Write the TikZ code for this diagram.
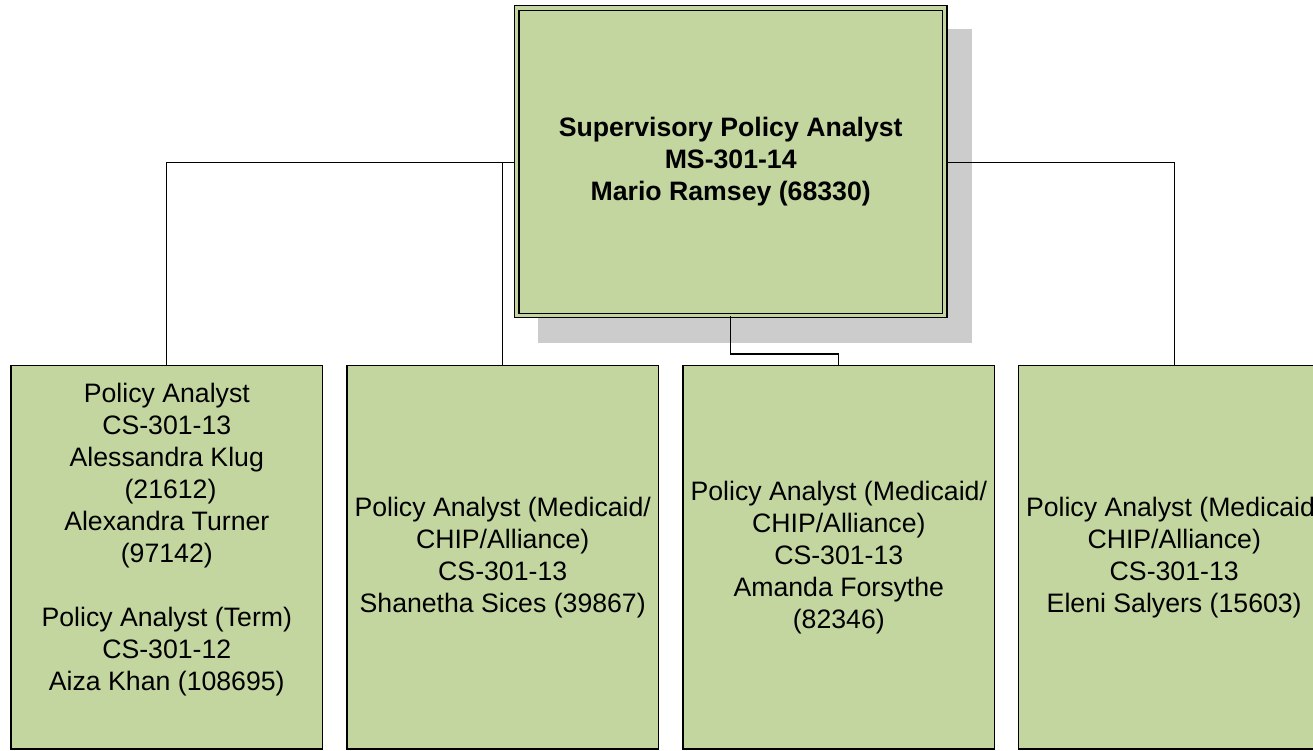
\documentclass[tikz,border=0pt]{standalone}
\usepackage{fontspec}
\setmainfont{Liberation Sans}
\definecolor{boxgreen}{RGB}{196,214,160}
\definecolor{shadowgray}{RGB}{204,204,204}
\begin{document}
\begin{tikzpicture}[x=0.75pt,y=-0.75pt,
  orgbox/.style={draw=black, line width=1pt, fill=boxgreen, minimum width=233.8pt, minimum height=287.3pt, inner sep=0pt, align=center, font=\fontsize{20pt}{24pt}\selectfont},
  topbox/.style={draw=black, line width=1pt, double=boxgreen, double distance=2.4pt, fill=boxgreen, minimum width=320.8pt, minimum height=230.6pt, inner sep=0pt, align=center, font=\fontsize{20pt}{24pt}\selectfont\bfseries},
  link/.style={draw=black, line width=1pt}]
\useasboundingbox (0,0) rectangle (1313,750);
\fill[shadowgray] (537.7,29) rectangle (972,342.7);
\coordinate (hy) at (0,162.3);
\coordinate (ky) at (0,354);
\node[orgbox] (b1) at (166.8,557.3) {Policy Analyst\\CS-301-13\\Alessandra Klug\\\hspace*{0.278em}(21612)\\Alexandra Turner\\(97142)\\[24pt]Policy Analyst (Term)\\CS-301-12\\Aiza Khan (108695)\\\strut};
\node[orgbox] (b2) at (502.7,557.3) {Policy Analyst (Medicaid/\\CHIP/Alliance)\\CS-301-13\\Shanetha Sices (39867)};
\node[orgbox] (b3) at (838.8,557.3) {Policy Analyst (Medicaid/\\CHIP/Alliance)\\CS-301-13\\Amanda Forsythe\\(82346)};
\node[orgbox] (b4) at (1174.2,557.3) {Policy Analyst (Medicaid/\\CHIP/Alliance)\\CS-301-13\\Eleni Salyers (15603)};
\draw[link] (b1.north) -- (b1.north |- hy) -- (b4.north |- hy) -- (b4.north);
\draw[link] (b2.north) -- (b2.north |- hy);
\node[topbox] (top) at (730.7,161.7) {Supervisory Policy Analyst\\MS-301-14\\Mario Ramsey (68330)};
\draw[link] (top.south) -- (top.south |- ky) -- (b3.north |- ky) -- (b3.north);
\end{tikzpicture}
\end{document}
